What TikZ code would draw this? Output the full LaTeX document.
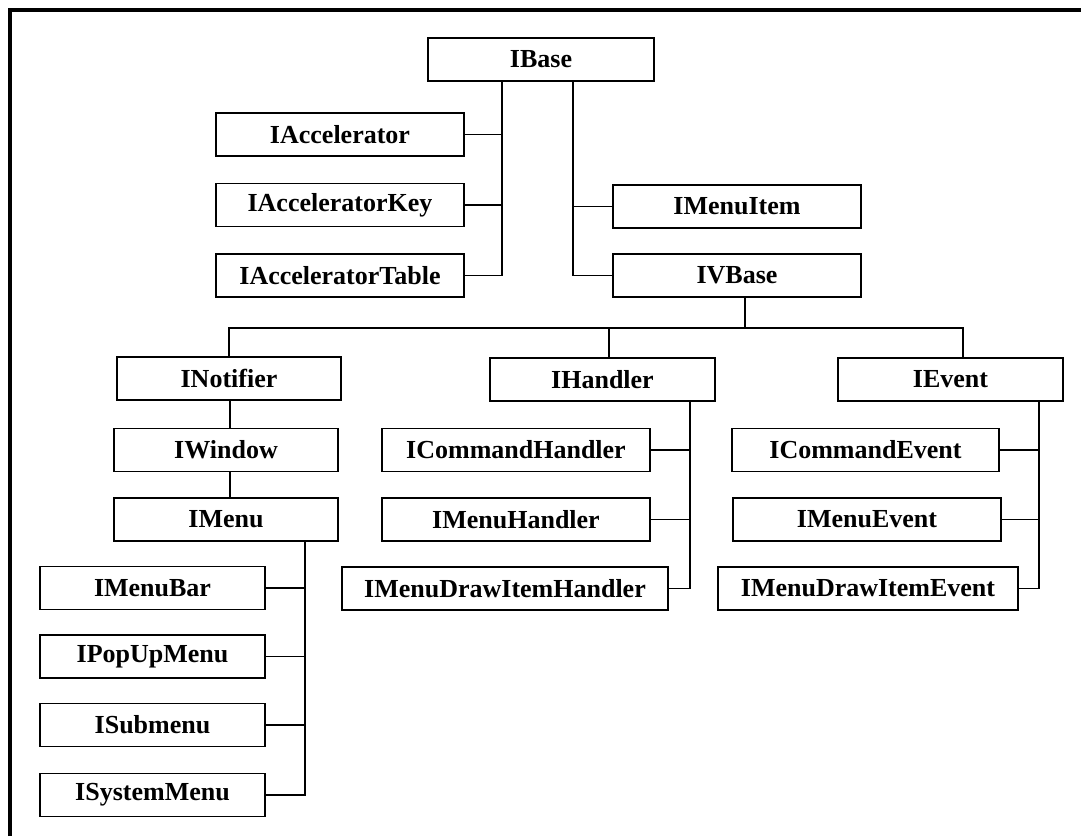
\documentclass[tikz,border=0pt]{standalone}
\usepackage{fontspec}
\setmainfont{Liberation Serif}
\usetikzlibrary{calc}

\tikzset{
  cls/.style={draw, line width=0.9pt, fill=white, inner sep=0pt,
    minimum height=21.5pt, font=\bfseries\fontsize{13pt}{15pt}\selectfont},
  link/.style={line width=0.9pt},
  frame/.style={line width=1.8pt}
}

\begin{document}
\begin{tikzpicture}[x=0.5pt, y=-0.5pt]
\useasboundingbox (0,0) rectangle (1081,836);

% partial frame: left and top edges
\draw[frame] (10,836) -- (10,10) -- (1081,10);

% root and first level
\node[cls, minimum width=113pt] (IBase) at (541,59.5) {IBase};
\node[cls, minimum width=124pt] (IAccelerator) at (340,134.5) {IAccelerator};
\node[cls, minimum width=124pt] (IAcceleratorKey) at (340,205) {IAcceleratorKey};
\node[cls, minimum width=124pt] (IAcceleratorTable) at (340,275.5) {IAcceleratorTable};
\node[cls, minimum width=124pt] (IMenuItem) at (737,206.5) {IMenuItem};
\node[cls, minimum width=124pt] (IVBase) at (737,275.5) {IVBase};

% second level
\node[cls, minimum width=112pt] (INotifier) at (229,378.5) {INotifier};
\node[cls, minimum width=112pt] (IWindow) at (226,450) {IWindow};
\node[cls, minimum width=112pt] (IMenu) at (226,519.5) {IMenu};
\node[cls, minimum width=112.5pt] (IMenuBar) at (152.5,588) {IMenuBar};
\node[cls, minimum width=112.5pt] (IPopUpMenu) at (152.5,656.5) {IPopUpMenu};
\node[cls, minimum width=112.5pt] (ISubmenu) at (152.5,725) {ISubmenu};
\node[cls, minimum width=112.5pt] (ISystemMenu) at (152.5,795) {ISystemMenu};

\node[cls, minimum width=112.5pt] (IHandler) at (602.5,379.5) {IHandler};
\node[cls, minimum width=134pt] (ICommandHandler) at (516,450) {ICommandHandler};
\node[cls, minimum width=134pt] (IMenuHandler) at (516,519.5) {IMenuHandler};
\node[cls, minimum width=163pt] (IMenuDrawItemHandler) at (505,588.5) {IMenuDrawItemHandler};

\node[cls, minimum width=112.5pt] (IEvent) at (950.5,379.5) {IEvent};
\node[cls, minimum width=133.5pt] (ICommandEvent) at (865.5,450) {ICommandEvent};
\node[cls, minimum width=134pt] (IMenuEvent) at (867,519.5) {IMenuEvent};
\node[cls, minimum width=150pt] (IMenuDrawItemEvent) at (868,588.5) {IMenuDrawItemEvent};

% IBase trunks
\coordinate (tA) at ($(IBase.south)+(-39,0)$);
\coordinate (tB) at ($(IBase.south)+(32,0)$);
\draw[link] (tA) |- (IAcceleratorTable.east);
\draw[link] (IAccelerator.east) -- (IAccelerator.east -| tA);
\draw[link] (IAcceleratorKey.east) -- (IAcceleratorKey.east -| tA);
\draw[link] (tB) |- (IVBase.west);
\draw[link] (IMenuItem.west) -- (IMenuItem.west -| tB);

% IVBase bus
\coordinate (vb) at ($(IVBase.south)+(8,0)$);
\coordinate (bus) at ($(vb)+(0,30)$);
\coordinate (hN) at ($(IHandler.north)+(6.5,0)$);
\coordinate (eN) at ($(IEvent.north)+(12.5,0)$);
\draw[link] (vb) -- (bus);
\draw[link] (INotifier.north) -- (INotifier.north |- bus) -- (eN |- bus) -- (eN);
\draw[link] (hN) -- (hN |- bus);

% INotifier chain
\coordinate (nS) at ($(INotifier.south)+(1,0)$);
\draw[link] (nS) -- (nS |- IWindow.north);
\draw[link] (nS |- IWindow.south) -- (nS |- IMenu.north);

% IMenu trunk
\coordinate (mT) at ($(IMenu.south)+(79,0)$);
\draw[link] (mT) |- (ISystemMenu.east);
\draw[link] (IMenuBar.east) -- (IMenuBar.east -| mT);
\draw[link] (IPopUpMenu.east) -- (IPopUpMenu.east -| mT);
\draw[link] (ISubmenu.east) -- (ISubmenu.east -| mT);

% IHandler trunk
\coordinate (hT) at ($(IHandler.south)+(87.5,0)$);
\draw[link] (hT) |- (IMenuDrawItemHandler.east);
\draw[link] (ICommandHandler.east) -- (ICommandHandler.east -| hT);
\draw[link] (IMenuHandler.east) -- (IMenuHandler.east -| hT);

% IEvent trunk
\coordinate (eT) at ($(IEvent.south)+(88.5,0)$);
\draw[link] (eT) |- (IMenuDrawItemEvent.east);
\draw[link] (ICommandEvent.east) -- (ICommandEvent.east -| eT);
\draw[link] (IMenuEvent.east) -- (IMenuEvent.east -| eT);
\end{tikzpicture}
\end{document}
